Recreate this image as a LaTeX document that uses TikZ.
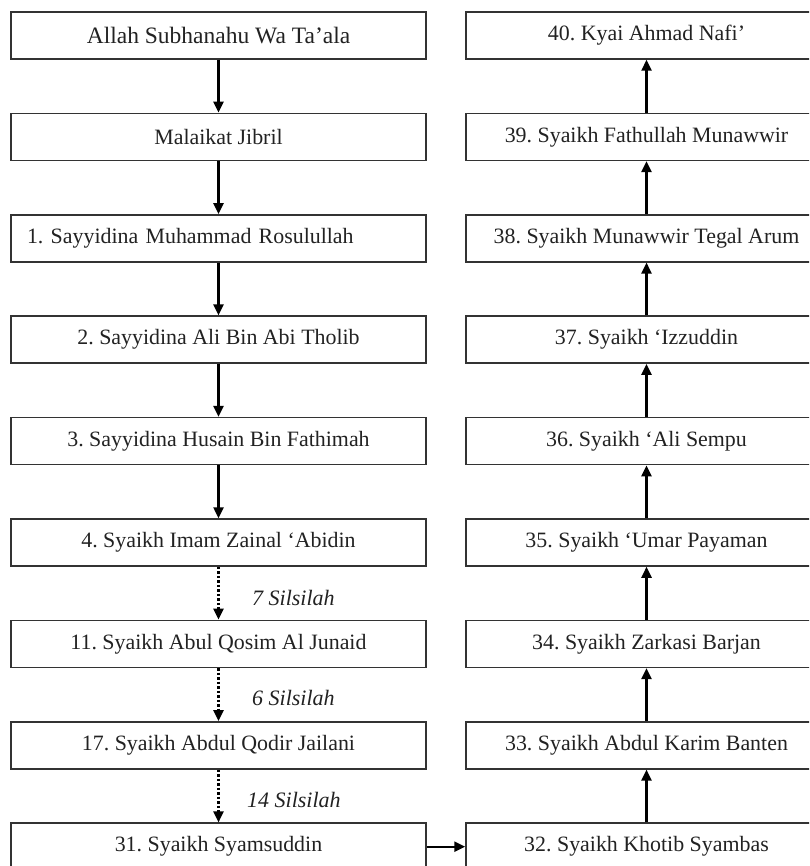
\documentclass[tikz,border=0pt]{standalone}
\usepackage{fontspec}
\setmainfont{Liberation Serif}
\usetikzlibrary{arrows.meta}
\definecolor{boxc}{HTML}{333333}
\definecolor{txt}{HTML}{222222}
\frenchspacing
\begin{document}
\begin{tikzpicture}[x=1pt,y=-1pt,
  box/.style={draw=boxc, line width=1.5pt, minimum width=415pt, minimum height=47pt, inner sep=0pt, font=\fontsize{21.9}{26}\selectfont, text=txt},
  rbox/.style={box, minimum width=361pt},
  conn/.style={line width=2.4pt, -{Triangle[length=11pt,width=10pt]}},
  dconn/.style={conn, dash pattern=on 2.5pt off 2pt},
  lbl/.style={font=\fontsize{22}{26}\selectfont\itshape, text=txt, anchor=west, inner sep=0pt}]
\useasboundingbox (0,0) rectangle (809,866);
\fill[white] (0,0) rectangle (809,866);
\clip (0,0) rectangle (809,866);
% left column
\node[box, font=\fontsize{23.5}{28}\selectfont] (l0) at (218.5,35.5) {Allah Subhanahu Wa Ta’ala};
\node[box] (l1) at (218.5,136.9) {Malaikat Jibril};
\node[box, text width=383pt, inner xsep=16pt, align=left] (l2) at (218.5,238.3) {1. Sayyidina Muhammad Rosulullah};
\node[box] (l3) at (218.5,339.7) {2. Sayyidina Ali Bin Abi Tholib};
\node[box] (l4) at (218.5,441.1) {3. Sayyidina Husain Bin Fathimah};
\node[box] (l5) at (218.5,542.5) {4. Syaikh Imam Zainal ‘Abidin};
\node[box] (l6) at (218.5,643.9) {11. Syaikh Abul Qosim Al Junaid};
\node[box] (l7) at (218.5,745.3) {17. Syaikh Abdul Qodir Jailani};
\node[box] (l8) at (218.5,846.7) {31. Syaikh Syamsuddin};
% right column
\node[rbox] (r0) at (646.5,35.5) {40. Kyai Ahmad Nafi’};
\node[rbox] (r1) at (646.5,136.9) {39. Syaikh Fathullah Munawwir};
\node[rbox] (r2) at (646.5,238.3) {38. Syaikh Munawwir Tegal Arum};
\node[rbox] (r3) at (646.5,339.7) {37. Syaikh ‘Izzuddin};
\node[rbox] (r4) at (646.5,441.1) {36. Syaikh ‘Ali Sempu};
\node[rbox] (r5) at (646.5,542.5) {35. Syaikh ‘Umar Payaman};
\node[rbox] (r6) at (646.5,643.9) {34. Syaikh Zarkasi Barjan};
\node[rbox] (r7) at (646.5,745.3) {33. Syaikh Abdul Karim Banten};
\node[rbox] (r8) at (646.5,846.7) {32. Syaikh Khotib Syambas};
% labels
\node[lbl] (s7) at (252,598) {7 Silsilah};
\node[lbl] (s6) at (252,698) {6 Silsilah};
\node[lbl] (s14) at (247,800) {14 Silsilah};
% connectors left
\draw[conn] (l0) -- (l1);
\draw[conn] (l1) -- (l2);
\draw[conn] (l2) -- (l3);
\draw[conn] (l3) -- (l4);
\draw[conn] (l4) -- (l5);
\draw[dconn] (l5) -- (l6);
\draw[dconn] (l6) -- (l7);
\draw[dconn] (l7) -- (l8);
% across
\draw[conn] (l8.east) -- (r8.west);
% connectors right
\draw[conn] (r8) -- (r7);
\draw[conn] (r7) -- (r6);
\draw[conn] (r6) -- (r5);
\draw[conn] (r5) -- (r4);
\draw[conn] (r4) -- (r3);
\draw[conn] (r3) -- (r2);
\draw[conn] (r2) -- (r1);
\draw[conn] (r1) -- (r0);
\end{tikzpicture}
\end{document}
